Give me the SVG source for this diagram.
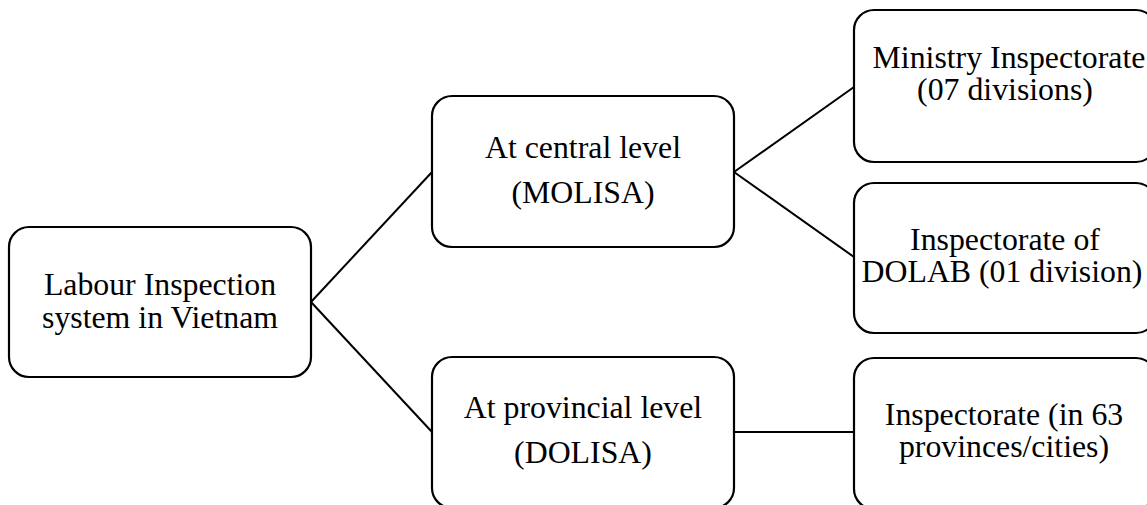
<svg xmlns="http://www.w3.org/2000/svg" width="1147" height="505" viewBox="0 0 1147 505">
<style>
.box{fill:#fff;stroke:#000;stroke-width:2.2}
.t{font-family:"Liberation Serif","Times New Roman",serif;font-size:31.8px;fill:#000;text-anchor:middle}
.c{fill:none;stroke:#000;stroke-width:2}
</style>
<rect width="1147" height="505" fill="#fff"/>
<g id="connectors">
<line class="c" x1="311" y1="302" x2="432" y2="172"/>
<line class="c" x1="311" y1="302" x2="432" y2="432"/>
<line class="c" x1="734" y1="172" x2="854" y2="87"/>
<line class="c" x1="734" y1="172" x2="854" y2="257"/>
<line class="c" x1="734" y1="432" x2="854" y2="432"/>
</g>
<g id="root">
<rect class="box" x="9" y="227" width="302" height="150" rx="20"/>
<text class="t" x="160" y="295">Labour Inspection</text>
<text class="t" x="160" y="328">system in Vietnam</text>
</g>
<g id="central">
<rect class="box" x="432" y="96" width="302" height="151" rx="20"/>
<text class="t" x="583" y="158">At central level</text>
<text class="t" x="583" y="203">(MOLISA)</text>
</g>
<g id="provincial">
<rect class="box" x="432" y="357" width="302" height="151" rx="20"/>
<text class="t" x="583" y="418">At provincial level</text>
<text class="t" x="583" y="463">(DOLISA)</text>
</g>
<g id="ministry">
<rect class="box" x="854" y="10" width="302" height="152" rx="20"/>
<text class="t" x="1009" y="68">Ministry Inspectorate</text>
<text class="t" x="1005" y="100">(07 divisions)</text>
</g>
<g id="dolab">
<rect class="box" x="854" y="183" width="302" height="150" rx="20"/>
<text class="t" x="1005" y="250">Inspectorate of</text>
<text class="t" x="1002" y="282">DOLAB (01 division)</text>
</g>
<g id="provinces">
<rect class="box" x="854" y="358" width="302" height="151" rx="20"/>
<text class="t" x="1004" y="425">Inspectorate (in 63</text>
<text class="t" x="1004" y="457">provinces/cities)</text>
</g>
</svg>
